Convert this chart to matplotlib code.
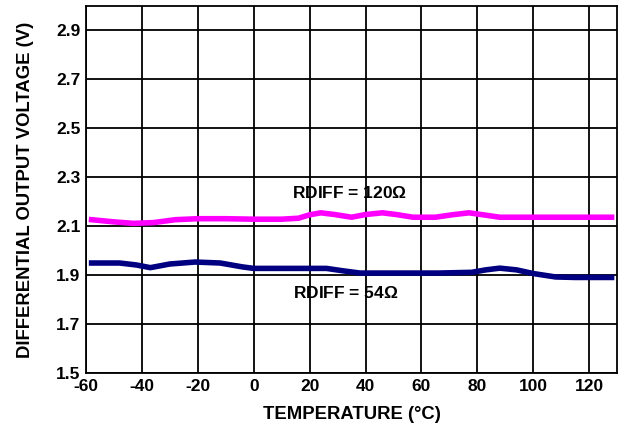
import matplotlib
matplotlib.use("Agg")
import matplotlib.pyplot as plt

plt.rcParams['font.family'] = ['Liberation Sans', 'DejaVu Sans']
plt.rcParams['font.weight'] = 'bold'

x_ticks = [-60, -40, -20, 0, 20, 40, 60, 80, 100, 120]
y_ticks = [1.5, 1.7, 1.9, 2.1, 2.3, 2.5, 2.7, 2.9]

temp_120 = [-59, -50, -43, -36, -28, -20, -10, 0, 10, 16, 20, 24, 29, 35, 40, 46, 51, 57, 65, 71, 77, 82, 88, 100, 129]
volt_120 = [2.128, 2.118, 2.112, 2.115, 2.127, 2.131, 2.131, 2.129, 2.129, 2.133, 2.147, 2.155, 2.148, 2.137,
            2.148, 2.155, 2.148, 2.137, 2.137, 2.147, 2.155, 2.147, 2.137, 2.137, 2.137]

temp_54 = [-59, -48, -42, -37, -30, -21, -12, -4, 0, 12, 26, 32, 38, 50, 66, 78, 83, 88, 94, 100, 108, 115, 129]
volt_54 = [1.950, 1.950, 1.942, 1.931, 1.946, 1.954, 1.950, 1.934, 1.928, 1.928, 1.928, 1.918, 1.909, 1.909,
           1.909, 1.912, 1.922, 1.929, 1.922, 1.907, 1.893, 1.891, 1.891]

fig = plt.figure(figsize=(6.19, 4.26), dpi=100)
ax = fig.add_axes([0.139, 0.124, 0.858, 0.862])

ax.plot(temp_120, volt_120, color='#FF00FF', lw=4, solid_joinstyle='round', solid_capstyle='butt', zorder=3)
ax.plot(temp_54, volt_54, color='#000080', lw=4, solid_joinstyle='round', solid_capstyle='butt', zorder=3)

ax.set_xlim(-60, 130)
ax.set_ylim(1.5, 3.0)
ax.set_xticks(x_ticks)
ax.set_yticks(y_ticks)
ax.set_xticklabels([str(v) for v in x_ticks])
ax.set_yticklabels([f"{v:.1f}" for v in y_ticks])
ax.grid(True, color='black', lw=1.3)
ax.set_axisbelow(True)
ax.tick_params(length=0, labelsize=12.5, pad=4)
for s in ax.spines.values():
    s.set_linewidth(1.3)

ax.set_xlabel('TEMPERATURE (°C)', fontsize=13.3, fontweight='bold', labelpad=9)
ax.set_ylabel('DIFFERENTIAL OUTPUT VOLTAGE (V)', fontsize=13.3, fontweight='bold', labelpad=16)

ax.text(34.3, 2.234, 'RDIFF = 120$\\mathregular{\\Omega}$', ha='center', va='center', fontsize=12.5, fontweight='bold')
ax.text(33, 1.827, 'RDIFF = 54$\\mathregular{\\Omega}$', ha='center', va='center', fontsize=12.5, fontweight='bold')

fig.savefig('out.png', dpi=100)
